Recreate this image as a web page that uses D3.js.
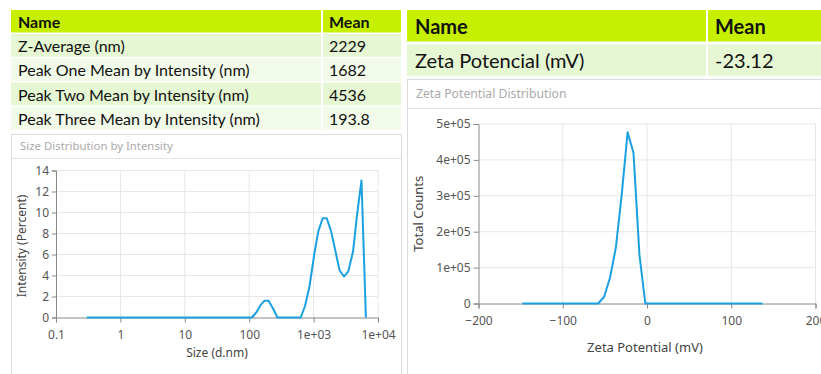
<!DOCTYPE html>
<html>
<head>
<meta charset="utf-8">
<script src="https://cdn.jsdelivr.net/npm/d3@7.9.0/dist/d3.min.js"></script>
<style>
  html, body { margin: 0; padding: 0; background: #fff; }
  svg { display: block; }
  .tbl { font-family: Lato, 'Noto Sans', sans-serif; fill: #111; }
  .chart text { font-family: 'Noto Sans', sans-serif; }
  .tick text { fill: #555; font-size: 12px; }
  .axis path, .axis line { stroke: #888; }
  .grid line { stroke: #e6e6e6; }
</style>
</head>
<body>
<svg id="chart" width="821" height="374"></svg>
<script>
// table values
const sizeNames = ['Z-Average (nm)', 'Peak One Mean by Intensity (nm)', 'Peak Two Mean by Intensity (nm)', 'Peak Three Mean by Intensity (nm)'];
const sizeMeans = ['2229', '1682', '4536', '193.8'];
const zetaNames = ['Zeta Potencial (mV)'];
const zetaMeans = ['-23.12'];

// size distribution (d.nm vs intensity %)
const sizeX = [0.3, 110, 128, 149, 173, 200, 232, 275, 632, 731, 855, 1023, 1183, 1383, 1600, 1871, 2187, 2530, 2960, 3460, 4100, 4730, 5540, 6490];
const sizeY = [0, 0, 0.45, 1.15, 1.6, 1.6, 0.9, 0, 0, 1.05, 2.8, 6.0, 8.2, 9.45, 9.45, 8.2, 6.3, 4.5, 3.9, 4.4, 6.3, 9.8, 13.05, 0];
const sizeTicks = [0.1, 1, 10, 100, 1000, 10000];
const sizeTickLabels = ['0.1', '1', '10', '100', '1e+03', '1e+04'];

// zeta potential distribution (mV vs total counts)
const zetaX = [-148, -58, -51, -44, -37, -30, -23, -16, -9, -2, 137];
const zetaY = [0, 0, 18000, 71000, 155000, 303000, 477000, 419000, 136000, 0, 0];
const zetaYTicks = [0, 100000, 200000, 300000, 400000, 500000];
const zetaYLabels = ['0', '1e+05', '2e+05', '3e+05', '4e+05', '5e+05'];

const svg = d3.select('#chart');
const lineColor = '#1ba1e2';

// ---------- tables ----------
function drawTable(g, names, means, opt) {
    const rows = [['Name', 'Mean']].concat(names.map((n, i) => [n, means[i]]));
    rows.forEach((r, i) => {
        const h = (i === 0 ? opt.headH : opt.rowH) - 1.5;
        const yy = i === 0 ? opt.y0 : opt.y0 + opt.headH + (i - 1) * opt.rowH + opt.headGap;
        const fill = i === 0 ? '#c6f000' : (i % 2 === 1 ? '#e5f7d3' : '#f2fbe9');
        g.append('rect').attr('x', opt.x0).attr('y', yy).attr('width', opt.split - opt.x0 - 1).attr('height', h).attr('fill', fill);
        g.append('rect').attr('x', opt.split + 1).attr('y', yy).attr('width', opt.x1 - opt.split - 1).attr('height', h).attr('fill', fill);
        const hh = i === 0 ? opt.headH : opt.rowH;
        g.append('text').attr('class', 'tbl')
            .attr('x', opt.x0 + opt.pad).attr('y', yy + hh / 2 + opt.fs * 0.36)
            .attr('font-size', opt.fs).attr('font-weight', i === 0 ? 700 : 400)
            .text(r[0]);
        g.append('text').attr('class', 'tbl')
            .attr('x', opt.split + opt.pad).attr('y', yy + hh / 2 + opt.fs * 0.36)
            .attr('font-size', opt.fs).attr('font-weight', i === 0 ? 700 : 400)
            .text(r[1]);
    });
}

drawTable(svg.append('g'), sizeNames, sizeMeans,
    { x0: 11, x1: 401, split: 322, y0: 10, headH: 24, rowH: 24.3, headGap: 0, pad: 7, fs: 16 });
drawTable(svg.append('g'), zetaNames, zetaMeans,
    { x0: 407, x1: 821, split: 707, y0: 10, headH: 33, rowH: 33, headGap: 1.5, pad: 8, fs: 20 });

// ---------- panels ----------
function panel(x, y, w, h, titleY, title, fs) {
    svg.append('rect').attr('x', x + 0.5).attr('y', y + 0.5).attr('width', w).attr('height', h)
        .attr('fill', '#fff').attr('stroke', '#dcdcdc');
    svg.append('line').attr('x1', x).attr('x2', x + w).attr('y1', titleY + 0.5).attr('y2', titleY + 0.5)
        .attr('stroke', '#e2e2e2');
    svg.append('text').attr('x', x + 9).attr('y', (y + titleY) / 2 + fs * 0.36)
        .attr('font-family', "'Noto Sans', sans-serif").attr('font-size', fs).attr('fill', '#aaa')
        .text(title);
}
panel(11, 134, 390, 260, 158, 'Size Distribution by Intensity', 11.4);
panel(407, 79, 430, 310, 108, 'Zeta Potential Distribution', 12.2);

// ---------- size chart ----------
const sg = svg.append('g').attr('class', 'chart');
const sx = d3.scaleLog().domain([0.1, 10000]).range([56, 378]);
const sy = d3.scaleLinear().domain([0, 14]).range([317.5, 170.5]);

sg.append('g').attr('class', 'grid').selectAll('line.h').data(d3.range(2, 15, 2)).join('line')
    .attr('x1', sx(0.1)).attr('x2', sx(10000)).attr('y1', d => sy(d)).attr('y2', d => sy(d));
sg.append('g').attr('class', 'grid').selectAll('line.v').data(sizeTicks.slice(1)).join('line')
    .attr('x1', d => sx(d)).attr('x2', d => sx(d)).attr('y1', sy(0)).attr('y2', sy(14));

sg.append('g').attr('class', 'axis').attr('transform', `translate(0,${sy(0)})`)
    .call(d3.axisBottom(sx).tickValues(sizeTicks).tickFormat((d, i) => sizeTickLabels[i]).tickSizeOuter(0).tickSize(5).tickPadding(8));
sg.append('g').attr('class', 'axis').attr('transform', `translate(${sx(0.1)},0)`)
    .call(d3.axisLeft(sy).tickValues(d3.range(0, 15, 2)).tickSizeOuter(0).tickSize(4).tickPadding(3));

sg.append('path').datum(sizeX.map((x, i) => [x, sizeY[i]]))
    .attr('fill', 'none').attr('stroke', lineColor).attr('stroke-width', 2).attr('stroke-linejoin', 'round')
    .attr('d', d3.line().x(d => sx(d[0])).y(d => sy(d[1])));

sg.append('text').attr('x', 217).attr('y', 357).attr('text-anchor', 'middle')
    .attr('font-size', 12).attr('fill', '#444').text('Size (d.nm)');
sg.append('text').attr('transform', `translate(26,${(sy(0) + sy(14)) / 2 + 2}) rotate(-90)`).attr('text-anchor', 'middle')
    .attr('font-size', 12).attr('fill', '#444').text('Intensity (Percent)');

// ---------- zeta chart ----------
const zg = svg.append('g').attr('class', 'chart');
const zx = d3.scaleLinear().domain([-200, 200]).range([478.5, 815.5]);
const zy = d3.scaleLinear().domain([0, 500000]).range([303.5, 124]);

zg.append('g').attr('class', 'grid').selectAll('line').data(zetaYTicks.slice(1)).join('line')
    .attr('x1', zx(-200)).attr('x2', zx(200)).attr('y1', d => zy(d)).attr('y2', d => zy(d));
zg.append('g').attr('class', 'grid').selectAll('line').data([-100, 0, 100, 200]).join('line')
    .attr('x1', d => zx(d)).attr('x2', d => zx(d)).attr('y1', zy(0)).attr('y2', zy(500000));

zg.append('g').attr('class', 'axis').attr('transform', `translate(0,${zy(0)})`)
    .call(d3.axisBottom(zx).tickValues([-200, -100, 0, 100, 200]).tickSizeOuter(0).tickSize(5).tickPadding(8));
zg.append('g').attr('class', 'axis').attr('transform', `translate(${zx(-200)},0)`)
    .call(d3.axisLeft(zy).tickValues(zetaYTicks).tickFormat((d, i) => zetaYLabels[i]).tickSizeOuter(0).tickSize(5).tickPadding(3));

zg.append('path').datum(zetaX.map((x, i) => [x, zetaY[i]]))
    .attr('fill', 'none').attr('stroke', lineColor).attr('stroke-width', 2).attr('stroke-linejoin', 'round')
    .attr('d', d3.line().x(d => zx(d[0])).y(d => zy(d[1])));

zg.selectAll('.tick text').attr('font-size', 13);
zg.append('text').attr('x', zx(0) - 2).attr('y', 352).attr('text-anchor', 'middle')
    .attr('font-size', 13).attr('fill', '#444').text('Zeta Potential (mV)');
zg.append('text').attr('transform', `translate(423,${(zy(0) + zy(500000)) / 2}) rotate(-90)`).attr('text-anchor', 'middle')
    .attr('font-size', 13).attr('fill', '#444').text('Total Counts');
</script>
</body>
</html>
